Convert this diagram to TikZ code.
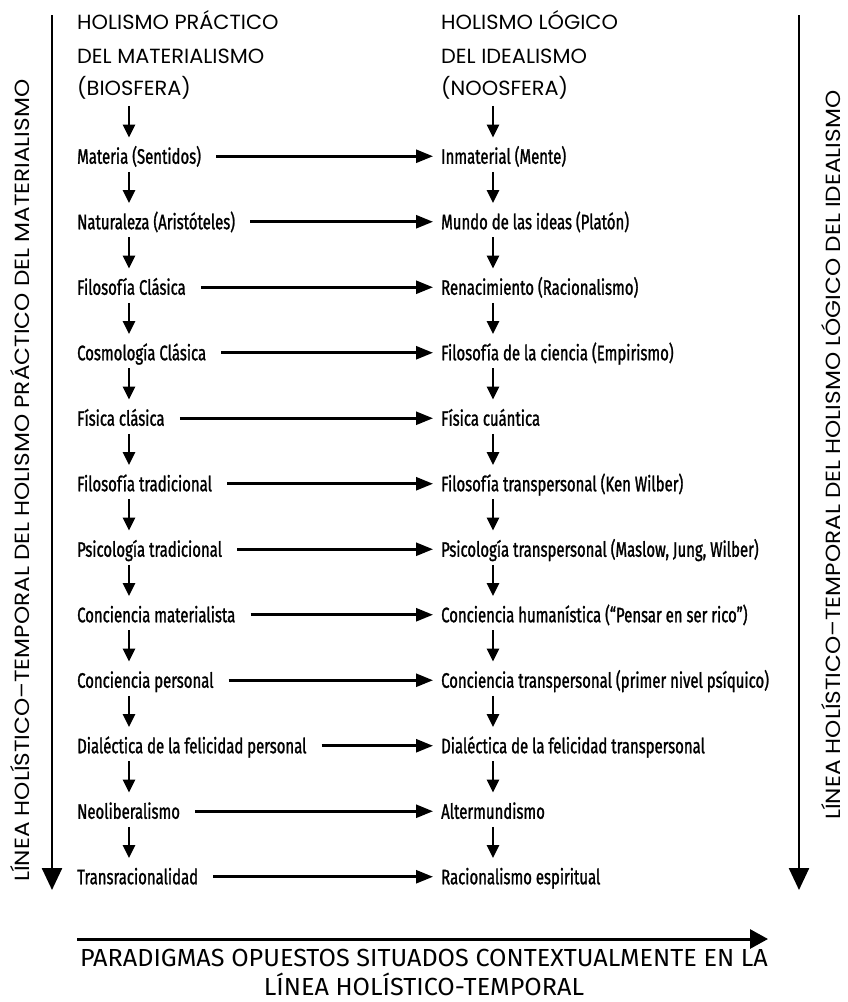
\documentclass[tikz,border=0pt]{standalone}
\usepackage{fontspec}
\setmainfont{Fira Sans}
\newfontfamily\headfont{Poppins}[FakeStretch=1.02]
\newfontfamily\sidefont{Poppins}[FakeStretch=1.13]
\newfontfamily\itemfont{Fira Sans}[FakeStretch=0.71, FakeBold=1.2]
\newfontfamily\capfont{Fira Sans}[FakeStretch=1.02]
\usetikzlibrary{arrows.meta}
\begin{document}
\begin{tikzpicture}[x=1pt,y=-1pt,
  head/.style={font=\headfont\fontsize{20.5}{22}\selectfont, anchor=base west, inner sep=0pt, text height=14pt, text depth=0pt},
  item/.style={font=\itemfont\fontsize{21}{22}\selectfont, anchor=base west, inner sep=0pt, text height=15pt, text depth=0pt},
  side/.style={font=\sidefont\fontsize{20.5}{22}\selectfont, anchor=base west, inner sep=0pt, text depth=0pt, rotate=90},
  captext/.style={font=\capfont\fontsize{24.7}{26}\selectfont, anchor=base, inner sep=0pt},
  down/.style={line width=2.6pt, -{Triangle[length=13pt,width=12pt]}, shorten <=8pt, shorten >=11pt},
  across/.style={line width=2.6pt, -{Triangle[length=17pt,width=13pt]}, shorten <=15pt, shorten >=8pt},
  big/.style={line width=2.5pt, -{Triangle[length=22pt,width=20pt]}},
  bottomarrow/.style={line width=3pt, -{Triangle[length=18pt,width=19pt]}},
]
\fill[white] (0,0) rectangle (847,1002);
\useasboundingbox (0,0) rectangle (847,1002);

% column guides
\coordinate (lx) at (129,0);
\coordinate (rx) at (493,0);

% headings
\node[head] (hl1) at (77,29.75) {HOLISMO PRÁCTICO};
\node[head] (hl2) at (77,63.75) {DEL MATERIALISMO};
\node[head] (hl3) at (77,95.75) {(BIOSFERA)};
\node[head] (hr1) at (441,29.75) {HOLISMO LÓGICO};
\node[head] (hr2) at (441,63.75) {DEL IDEALISMO};
\node[head] (hr3) at (441,95.75) {(NOOSFERA)};

% items
\foreach \i/\l/\r in {
  1/{Materia (Sentidos)}/{Inmaterial (Mente)},
  2/{Naturaleza (Aristóteles)}/{Mundo de las ideas (Platón)},
  3/{Filosofía Clásica}/{Renacimiento (Racionalismo)},
  4/{Cosmología Clásica}/{Filosofía de la ciencia (Empirismo)},
  5/{Física clásica}/{Física cuántica},
  6/{Filosofía tradicional}/{Filosofía transpersonal (Ken Wilber)},
  7/{Psicología tradicional}/{Psicología transpersonal (Maslow, Jung, Wilber)},
  8/{Conciencia materialista}/{Conciencia humanística (“Pensar en ser rico”)},
  9/{Conciencia personal}/{Conciencia transpersonal (primer nivel psíquico)},
  10/{Dialéctica de la felicidad personal}/{Dialéctica de la felicidad transpersonal},
  11/{Neoliberalismo}/{Altermundismo},
  12/{Transracionalidad}/{Racionalismo espiritual}} {
  \pgfmathsetmacro\yy{163.75+65.5*(\i-1)}
  \node[item] (L\i) at (77,\yy) {\l};
  \node[item] (R\i) at (441,\yy) {\r};
  \draw[across] (L\i.east) -- (R\i.west);
}

% vertical arrows
\draw[down, shorten <=10pt] (hl3.south -| lx) -- (L1.north -| lx);
\draw[down, shorten <=10pt] (hr3.south -| rx) -- (R1.north -| rx);
\foreach \i [evaluate=\i as \j using int(\i+1)] in {1,...,11} {
  \draw[down] (L\i.south -| lx) -- (L\j.north -| lx);
  \draw[down] (R\i.south -| rx) -- (R\j.north -| rx);
}

% big side arrows
\coordinate (lt) at (52,15);
\coordinate (lb) at (52,890);
\coordinate (rt) at (799,15);
\coordinate (rb) at (799,890);
\draw[big] (lt) -- (lb);
\draw[big] (rt) -- (rb);

\node[side] (ls) at (29,882) {LÍNEA HOLÍSTICO–TEMPORAL DEL HOLISMO PRÁCTICO DEL MATERIALISMO};
\node[side] (rs) at (840,820) {LÍNEA HOLÍSTICO–TEMPORAL DEL HOLISMO LÓGICO DEL IDEALISMO};

% bottom arrow and caption
\coordinate (bs) at (77,939);
\coordinate (be) at (768,939);
\draw[bottomarrow] (bs) -- (be);
\node[captext] (c1) at (424,966.5) {PARADIGMAS OPUESTOS SITUADOS CONTEXTUALMENTE EN LA};
\node[captext] (c2) at (424,995.5) {LÍNEA HOLÍSTICO-TEMPORAL};
\end{tikzpicture}
\end{document}
